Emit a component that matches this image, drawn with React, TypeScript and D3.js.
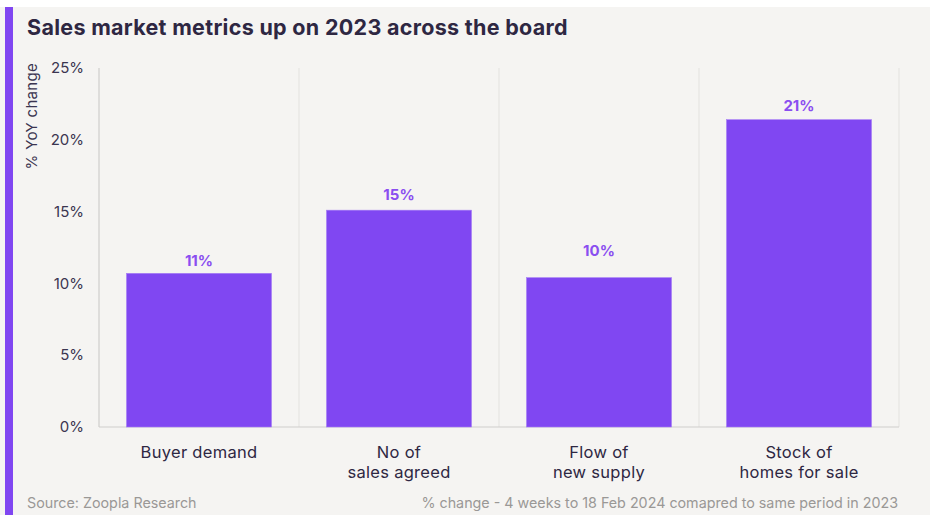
import React from "react";
import * as d3 from "d3";

const categories: string[][] = [
  ["Buyer demand"],
  ["No of", "sales agreed"],
  ["Flow of", "new supply"],
  ["Stock of", "homes for sale"],
];
const values: number[] = [10.7, 15.1, 10.4, 21.4];
const valueLabels: string[] = ["11%", "15%", "10%", "21%"];
const labelAt: number[] = [11.6, 16.2, 12.3, 22.4];
const yTicks: number[] = [0, 5, 10, 15, 20, 25];

const W = 930;
const H = 515;
const FONT = "Inter, 'Noto Sans', sans-serif";

export default function App() {
  const x = d3
    .scaleBand<number>()
    .domain(d3.range(values.length))
    .range([99, 899])
    .paddingInner(0.275)
    .paddingOuter(0.1375);
  const y = d3.scaleLinear().domain([0, 25]).range([427, 68]);
  const step = x.step();
  const boundaries = d3.range(values.length + 1).map((i) => 99 + i * step);

  return (
    <svg
      width={W}
      height={H}
      style={{ position: "absolute", left: 0, top: 0, fontFamily: FONT }}
    >
      <rect x={0} y={0} width={W} height={H} fill="#ffffff" />
      <rect x={0} y={7} width={W} height={H - 7} fill="#f5f4f2" />
      <rect x={5} y={7} width={8} height={H - 7} fill="#8046f1" />
      <text x={27} y={35} fontSize={21.5} fontWeight={700} letterSpacing={0.3} fill="#2e2742">
        Sales market metrics up on 2023 across the board
      </text>
      {boundaries.map((bx, i) => (
        <line
          key={i}
          x1={bx}
          x2={bx}
          y1={y(25)}
          y2={y(0)}
          stroke={i === 0 ? "#cfcdcb" : "#e6e4e2"}
          strokeWidth={1.2}
        />
      ))}
      <line x1={99} x2={899} y1={y(0)} y2={y(0)} stroke="#cfcdcb" strokeWidth={1.2} />
      {yTicks.map((t) => (
        <text
          key={t}
          x={84}
          y={y(t)}
          dy="0.35em"
          textAnchor="end"
          fontSize={15}
          fill="#3b3550"
        >
          {t}%
        </text>
      ))}
      <text
        transform={`translate(37,63) rotate(-90)`}
        textAnchor="end"
        fontSize={15}
        letterSpacing={0.3}
        fill="#3b3550"
      >
        % YoY change
      </text>
      {values.map((v, i) => (
        <rect
          key={i}
          x={x(i)}
          y={y(v)}
          width={x.bandwidth()}
          height={y(0) - y(v)}
          fill="#8047f2"
          stroke="#a57cf5"
          strokeWidth={0.6}
        />
      ))}
      {values.map((v, i) => (
        <text
          key={i}
          x={(x(i) as number) + x.bandwidth() / 2}
          y={y(labelAt[i])}
          dy="0.35em"
          textAnchor="middle"
          fontSize={15}
          fontWeight={700}
          fill="#8a4ef0"
        >
          {valueLabels[i]}
        </text>
      ))}
      {categories.map((lines, i) => (
        <text
          key={i}
          x={(x(i) as number) + x.bandwidth() / 2}
          textAnchor="middle"
          fontSize={16.5}
          letterSpacing={0.3}
          fill="#2e2742"
        >
          {lines.map((l, j) => (
            <tspan key={j} x={(x(i) as number) + x.bandwidth() / 2} y={458 + j * 20}>
              {l}
            </tspan>
          ))}
        </text>
      ))}
      <text x={27} y={508} fontSize={14.3} fill="#9a9896">
        Source: Zoopla Research
      </text>
      <text x={898} y={508} textAnchor="end" fontSize={14.3} fill="#9a9896">
        % change - 4 weeks to 18 Feb 2024 comapred to same period in 2023
      </text>
    </svg>
  );
}
